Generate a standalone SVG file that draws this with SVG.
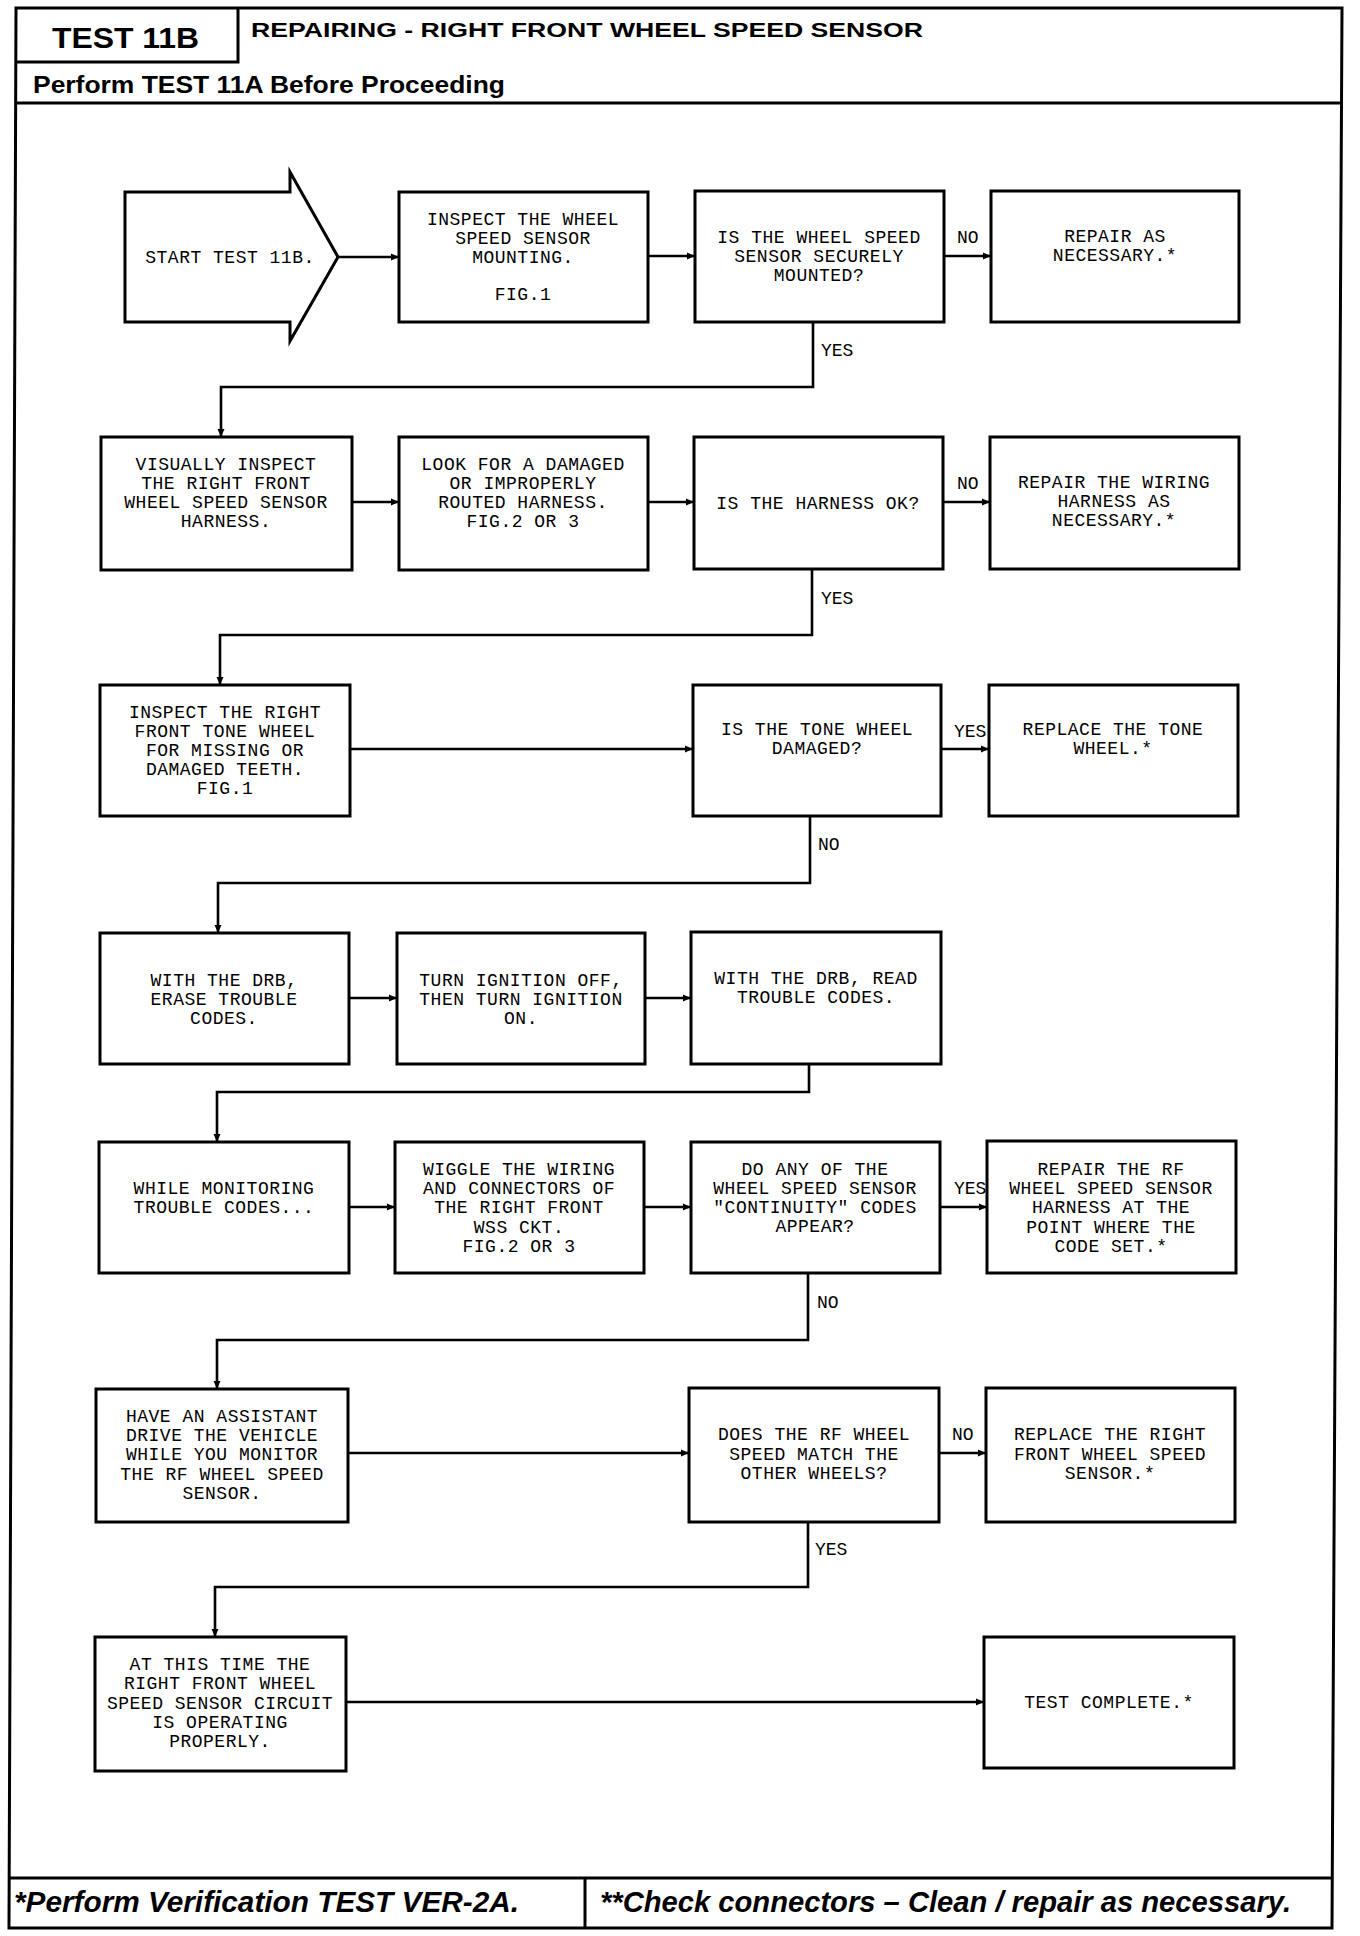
<svg xmlns="http://www.w3.org/2000/svg" width="1360" height="1936" viewBox="0 0 1360 1936">
<defs>
<style>
.box{fill:#fff;stroke:#000;stroke-width:3}
.frame{fill:none;stroke:#000;stroke-width:3}
.c{fill:none;stroke:#000;stroke-width:2.6}
.t{font-family:"Liberation Mono","DejaVu Sans Mono",monospace;font-size:18px;letter-spacing:0.5px;fill:#000;text-anchor:middle}
.l{font-family:"Liberation Mono","DejaVu Sans Mono",monospace;font-size:18px;fill:#000;text-anchor:start}
.h{font-family:"Liberation Sans",Arial,sans-serif;font-weight:bold;fill:#000}
.f{font-family:"Liberation Sans",Arial,sans-serif;font-weight:bold;font-style:italic;fill:#000;font-size:30px}
</style>
<marker id="ar" markerWidth="10" markerHeight="10" refX="9" refY="5" orient="auto" markerUnits="userSpaceOnUse">
<path d="M1,1.5 L9,5 L1,8.5 Z" fill="#000"/>
</marker>
</defs>
<rect width="1360" height="1936" fill="#fff"/>

<g id="frame">
<polygon class="frame" points="16,8 1342,8 1332,1928 9,1928"/>
<polyline class="frame" points="16,62 238,62 238,8"/>
<line class="frame" x1="16" y1="103" x2="1342" y2="103"/>
<line class="frame" x1="10" y1="1878" x2="1333" y2="1878"/>
<line class="frame" x1="585" y1="1878" x2="585" y2="1928"/>
<text class="h" x="52" y="48" font-size="30" textLength="147" lengthAdjust="spacingAndGlyphs">TEST 11B</text>
<text class="h" x="251" y="37" font-size="21" textLength="672" lengthAdjust="spacingAndGlyphs">REPAIRING - RIGHT FRONT WHEEL SPEED SENSOR</text>
<text class="h" x="33" y="93" font-size="23" textLength="472" lengthAdjust="spacingAndGlyphs">Perform TEST 11A Before Proceeding</text>
<text class="f" x="14" y="1912" textLength="505" lengthAdjust="spacingAndGlyphs">*Perform Verification TEST VER-2A.</text>
<text class="f" x="600" y="1912" textLength="691" lengthAdjust="spacingAndGlyphs">**Check connectors – Clean / repair as necessary.</text>
</g>

<g id="connectors">
<line class="c" x1="338" y1="257" x2="399" y2="257" marker-end="url(#ar)"/>
<line class="c" x1="648" y1="256" x2="695" y2="256" marker-end="url(#ar)"/>
<line class="c" x1="944" y1="256" x2="991" y2="256" marker-end="url(#ar)"/>
<polyline class="c" points="813,322 813,387 221,387 221,437" marker-end="url(#ar)"/>
<line class="c" x1="352" y1="502" x2="399" y2="502" marker-end="url(#ar)"/>
<line class="c" x1="648" y1="502" x2="694" y2="502" marker-end="url(#ar)"/>
<line class="c" x1="943" y1="502" x2="990" y2="502" marker-end="url(#ar)"/>
<polyline class="c" points="812,569 812,635 220,635 220,685" marker-end="url(#ar)"/>
<line class="c" x1="350" y1="749" x2="693" y2="749" marker-end="url(#ar)"/>
<line class="c" x1="941" y1="749" x2="989" y2="749" marker-end="url(#ar)"/>
<polyline class="c" points="810,816 810,883 218,883 218,933" marker-end="url(#ar)"/>
<line class="c" x1="349" y1="998" x2="397" y2="998" marker-end="url(#ar)"/>
<line class="c" x1="645" y1="998" x2="691" y2="998" marker-end="url(#ar)"/>
<polyline class="c" points="809,1064 809,1092 217,1092 217,1142" marker-end="url(#ar)"/>
<line class="c" x1="349" y1="1207" x2="395" y2="1207" marker-end="url(#ar)"/>
<line class="c" x1="644" y1="1207" x2="691" y2="1207" marker-end="url(#ar)"/>
<line class="c" x1="940" y1="1207" x2="987" y2="1207" marker-end="url(#ar)"/>
<polyline class="c" points="808,1273 808,1340 217,1340 217,1389" marker-end="url(#ar)"/>
<line class="c" x1="348" y1="1453" x2="689" y2="1453" marker-end="url(#ar)"/>
<line class="c" x1="939" y1="1453" x2="986" y2="1453" marker-end="url(#ar)"/>
<polyline class="c" points="808,1522 808,1587 215,1587 215,1637" marker-end="url(#ar)"/>
<line class="c" x1="346" y1="1702" x2="984" y2="1702" marker-end="url(#ar)"/>
<text class="l" x="957" y="243">NO</text>
<text class="l" x="821" y="356">YES</text>
<text class="l" x="957" y="489">NO</text>
<text class="l" x="821" y="604">YES</text>
<text class="l" x="954" y="737">YES</text>
<text class="l" x="818" y="850">NO</text>
<text class="l" x="954" y="1194">YES</text>
<text class="l" x="817" y="1308">NO</text>
<text class="l" x="952" y="1440">NO</text>
<text class="l" x="815" y="1555">YES</text>
</g>

<g id="n1">
<polygon class="box" points="125,192 290,192 290,172 338,257 290,341 290,322 125,322"/>
<text class="t" x="230" y="263">START TEST 11B.</text>
</g>
<g id="n2">
<rect class="box" x="399" y="192" width="249" height="130"/>
<text class="t"><tspan x="523" y="225">INSPECT THE WHEEL</tspan><tspan x="523" y="244">SPEED SENSOR</tspan><tspan x="523" y="263">MOUNTING.</tspan><tspan x="523" y="300">FIG.1</tspan></text>
</g>
<g id="n3">
<rect class="box" x="695" y="191" width="249" height="131"/>
<text class="t"><tspan x="819" y="243">IS THE WHEEL SPEED</tspan><tspan x="819" y="262">SENSOR SECURELY</tspan><tspan x="819" y="281">MOUNTED?</tspan></text>
</g>
<g id="n4">
<rect class="box" x="991" y="191" width="248" height="131"/>
<text class="t"><tspan x="1115" y="242">REPAIR AS</tspan><tspan x="1115" y="261">NECESSARY.*</tspan></text>
</g>
<g id="n5">
<rect class="box" x="101" y="437" width="251" height="133"/>
<text class="t"><tspan x="226" y="470">VISUALLY INSPECT</tspan><tspan x="226" y="489">THE RIGHT FRONT</tspan><tspan x="226" y="508">WHEEL SPEED SENSOR</tspan><tspan x="226" y="527">HARNESS.</tspan></text>
</g>
<g id="n6">
<rect class="box" x="399" y="437" width="249" height="133"/>
<text class="t"><tspan x="523" y="470">LOOK FOR A DAMAGED</tspan><tspan x="523" y="489">OR IMPROPERLY</tspan><tspan x="523" y="508">ROUTED HARNESS.</tspan><tspan x="523" y="527">FIG.2 OR 3</tspan></text>
</g>
<g id="n7">
<rect class="box" x="694" y="437" width="249" height="132"/>
<text class="t" x="818" y="509">IS THE HARNESS OK?</text>
</g>
<g id="n8">
<rect class="box" x="990" y="437" width="249" height="132"/>
<text class="t"><tspan x="1114" y="488">REPAIR THE WIRING</tspan><tspan x="1114" y="507">HARNESS AS</tspan><tspan x="1114" y="526">NECESSARY.*</tspan></text>
</g>
<g id="n9">
<rect class="box" x="100" y="685" width="250" height="131"/>
<text class="t"><tspan x="225" y="718">INSPECT THE RIGHT</tspan><tspan x="225" y="737">FRONT TONE WHEEL</tspan><tspan x="225" y="756">FOR MISSING OR</tspan><tspan x="225" y="775">DAMAGED TEETH.</tspan><tspan x="225" y="794">FIG.1</tspan></text>
</g>
<g id="n10">
<rect class="box" x="693" y="685" width="248" height="131"/>
<text class="t"><tspan x="817" y="735">IS THE TONE WHEEL</tspan><tspan x="817" y="754">DAMAGED?</tspan></text>
</g>
<g id="n11">
<rect class="box" x="989" y="685" width="249" height="131"/>
<text class="t"><tspan x="1113" y="735">REPLACE THE TONE</tspan><tspan x="1113" y="754">WHEEL.*</tspan></text>
</g>
<g id="n12">
<rect class="box" x="100" y="933" width="249" height="131"/>
<text class="t"><tspan x="224" y="986">WITH THE DRB,</tspan><tspan x="224" y="1005">ERASE TROUBLE</tspan><tspan x="224" y="1024">CODES.</tspan></text>
</g>
<g id="n13">
<rect class="box" x="397" y="933" width="248" height="131"/>
<text class="t"><tspan x="521" y="986">TURN IGNITION OFF,</tspan><tspan x="521" y="1005">THEN TURN IGNITION</tspan><tspan x="521" y="1024">ON.</tspan></text>
</g>
<g id="n14">
<rect class="box" x="691" y="932" width="250" height="132"/>
<text class="t"><tspan x="816" y="984">WITH THE DRB, READ</tspan><tspan x="816" y="1003">TROUBLE CODES.</tspan></text>
</g>
<g id="n15">
<rect class="box" x="99" y="1142" width="250" height="131"/>
<text class="t"><tspan x="224" y="1194">WHILE MONITORING</tspan><tspan x="224" y="1213">TROUBLE CODES...</tspan></text>
</g>
<g id="n16">
<rect class="box" x="395" y="1142" width="249" height="131"/>
<text class="t"><tspan x="519" y="1175">WIGGLE THE WIRING</tspan><tspan x="519" y="1194">AND CONNECTORS OF</tspan><tspan x="519" y="1213">THE RIGHT FRONT</tspan><tspan x="519" y="1233">WSS CKT.</tspan><tspan x="519" y="1252">FIG.2 OR 3</tspan></text>
</g>
<g id="n17">
<rect class="box" x="691" y="1142" width="249" height="131"/>
<text class="t"><tspan x="815" y="1175">DO ANY OF THE</tspan><tspan x="815" y="1194">WHEEL SPEED SENSOR</tspan><tspan x="815" y="1213">"CONTINUITY" CODES</tspan><tspan x="815" y="1232">APPEAR?</tspan></text>
</g>
<g id="n18">
<rect class="box" x="987" y="1141" width="249" height="132"/>
<text class="t"><tspan x="1111" y="1175">REPAIR THE RF</tspan><tspan x="1111" y="1194">WHEEL SPEED SENSOR</tspan><tspan x="1111" y="1213">HARNESS AT THE</tspan><tspan x="1111" y="1233">POINT WHERE THE</tspan><tspan x="1111" y="1252">CODE SET.*</tspan></text>
</g>
<g id="n19">
<rect class="box" x="96" y="1389" width="252" height="133"/>
<text class="t"><tspan x="222" y="1422">HAVE AN ASSISTANT</tspan><tspan x="222" y="1441">DRIVE THE VEHICLE</tspan><tspan x="222" y="1460">WHILE YOU MONITOR</tspan><tspan x="222" y="1480">THE RF WHEEL SPEED</tspan><tspan x="222" y="1499">SENSOR.</tspan></text>
</g>
<g id="n20">
<rect class="box" x="689" y="1388" width="250" height="134"/>
<text class="t"><tspan x="814" y="1440">DOES THE RF WHEEL</tspan><tspan x="814" y="1460">SPEED MATCH THE</tspan><tspan x="814" y="1479">OTHER WHEELS?</tspan></text>
</g>
<g id="n21">
<rect class="box" x="986" y="1388" width="249" height="134"/>
<text class="t"><tspan x="1110" y="1440">REPLACE THE RIGHT</tspan><tspan x="1110" y="1460">FRONT WHEEL SPEED</tspan><tspan x="1110" y="1479">SENSOR.*</tspan></text>
</g>
<g id="n22">
<rect class="box" x="95" y="1637" width="251" height="134"/>
<text class="t"><tspan x="220" y="1670">AT THIS TIME THE</tspan><tspan x="220" y="1689">RIGHT FRONT WHEEL</tspan><tspan x="220" y="1709">SPEED SENSOR CIRCUIT</tspan><tspan x="220" y="1728">IS OPERATING</tspan><tspan x="220" y="1747">PROPERLY.</tspan></text>
</g>
<g id="n23">
<rect class="box" x="984" y="1637" width="250" height="131"/>
<text class="t" x="1109" y="1708">TEST COMPLETE.*</text>
</g>
</svg>
